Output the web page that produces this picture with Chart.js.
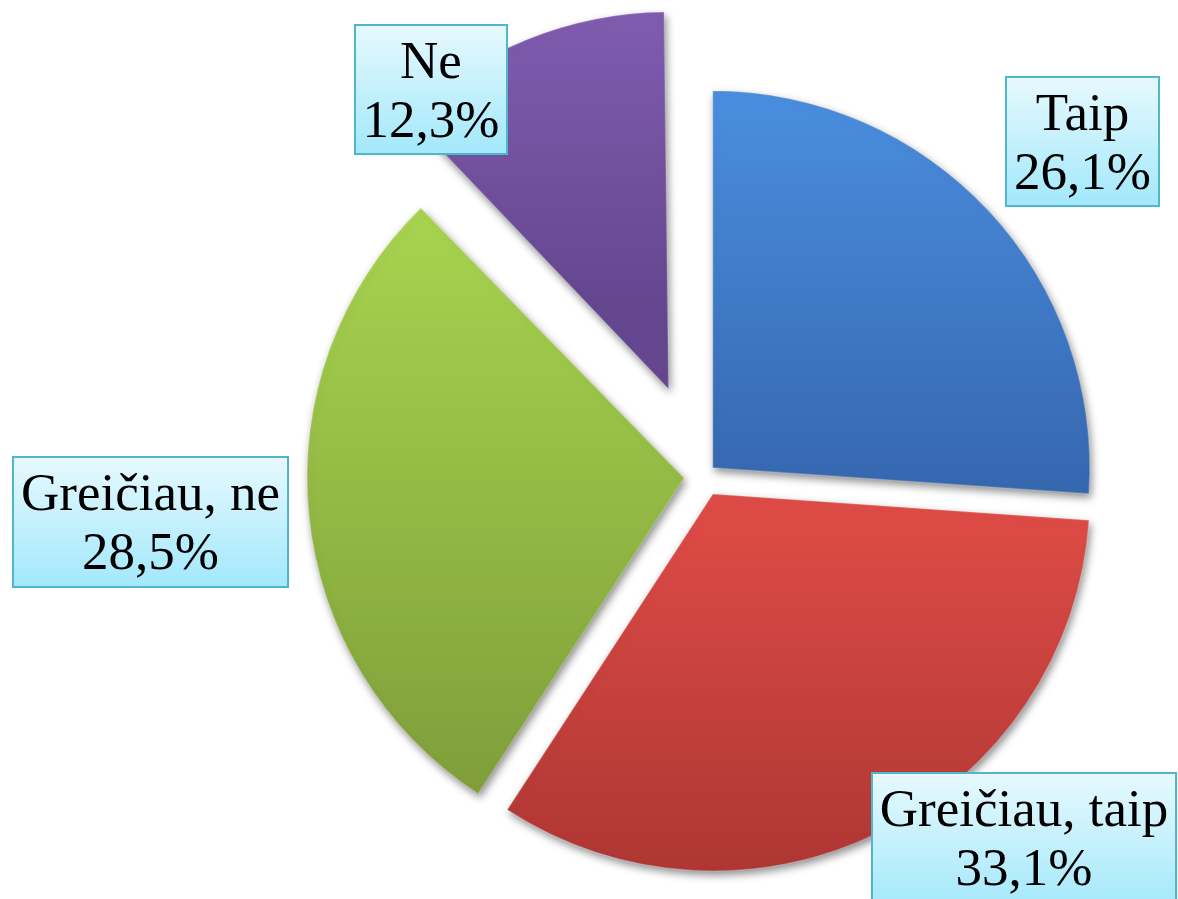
<!DOCTYPE html>
<html>
<head>
<meta charset="utf-8">
<script src="https://cdn.jsdelivr.net/npm/chart.js@4.4.0/dist/chart.umd.min.js"></script>
<style>
  html, body { margin: 0; padding: 0; background: #ffffff; overflow: hidden; }
  #wrap { width: 1178px; height: 899px; position: relative; overflow: hidden; }
  #c { position: absolute; left: 0; top: 0; }
  .lbl {
    position: absolute; box-sizing: border-box;
    border: 2px solid #4fb6cb;
    background: linear-gradient(to bottom, #e6f9fe, #a3e8fb);
    font-family: "Liberation Serif"; font-size: 53px; line-height: 59px;
    color: #000; text-align: center; white-space: nowrap;
    padding-top: 5px;
  }
</style>
</head>
<body>
<div id="wrap"><canvas id="c" width="1178" height="899"></canvas></div>
<script>
const categories = ["Taip", "Greičiau, taip", "Greičiau, ne", "Ne"];
const values = [26.1, 33.1, 28.5, 12.3];
const valueLabels = ["26,1%", "33,1%", "28,5%", "12,3%"];

// styling
const topColors = ["#4b8fe0", "#de4b46", "#a8d44f", "#8863b9"];
const bottomColors = ["#3668b0", "#ab3532", "#7f9e3a", "#654790"];
const gradRange = [[90, 490], [497, 875], [208, 790], [10, 385]];
const explodePx = [12, 20, 20, 94];
const pieRadius = 377;

// label box placements (left, top, width, height)
const labelBoxes = [
  [1005, 76, 155, 131],
  [871, 772, 306, 140],
  [12, 456, 277, 132],
  [354, 24, 154, 131]
];

function sliceFill(context) {
  const i = context.dataIndex;
  const c = context.chart.ctx;
  const [y0, y1] = gradRange[i];
  const g = c.createLinearGradient(0, y0, 0, y1);
  g.addColorStop(0, topColors[i]);
  g.addColorStop(1, bottomColors[i]);
  return g;
}

// Chart.js draws an arc translated by offset/4 and enlarges its radius by
// (offset/4)*(1-sin(circumference)); keep every slice at the same radius.
const keepRadius = {
  id: 'keepRadius',
  afterDatasetUpdate(chart, args) {
    const meta = chart.getDatasetMeta(args.index);
    meta.data.forEach((arc, i) => {
      const t = explodePx[i];
      const fix = 1 - Math.sin(Math.min(Math.PI, arc.circumference || 0));
      arc.outerRadius = pieRadius - t * fix;
    });
  }
};

const shadowPlugin = {
  id: 'shadow',
  beforeDatasetsDraw(chart) {
    const c = chart.ctx;
    c.save();
    c.shadowColor = 'rgba(0,0,0,0.45)';
    c.shadowBlur = 8;
    c.shadowOffsetX = 2;
    c.shadowOffsetY = 4;
  },
  afterDatasetsDraw(chart) {
    chart.ctx.restore();
  }
};

// data labels as real text boxes over the chart
const labelPlugin = {
  id: 'boxLabels',
  afterRender(chart) {
    const wrap = document.getElementById('wrap');
    wrap.querySelectorAll('.lbl').forEach(n => n.remove());
    const labels = chart.data.labels;
    const data = chart.data.datasets[0].data;
    labels.forEach((name, i) => {
      const [x, y, w, h] = labelBoxes[i];
      const d = document.createElement('div');
      d.className = 'lbl';
      d.style.left = x + 'px';
      d.style.top = y + 'px';
      d.style.width = w + 'px';
      d.style.height = h + 'px';
      const l1 = document.createElement('div');
      l1.textContent = name;
      const l2 = document.createElement('div');
      l2.textContent = valueLabels[i];
      d.appendChild(l1);
      d.appendChild(l2);
      wrap.appendChild(d);
    });
  }
};

new Chart(document.getElementById('c'), {
  type: 'pie',
  data: {
    labels: categories,
    datasets: [{
      data: values,
      backgroundColor: sliceFill,
      borderWidth: 1.5,
      borderColor: 'rgba(255,255,255,0.18)',
      offset: explodePx.map(v => v * 4)
    }]
  },
  options: {
    responsive: false,
    animation: false,
    radius: pieRadius,
    layout: { padding: { left: 230, top: 53 } },
    plugins: {
      legend: { display: false },
      tooltip: { enabled: false }
    }
  },
  plugins: [keepRadius, shadowPlugin, labelPlugin]
});
</script>
</body>
</html>
